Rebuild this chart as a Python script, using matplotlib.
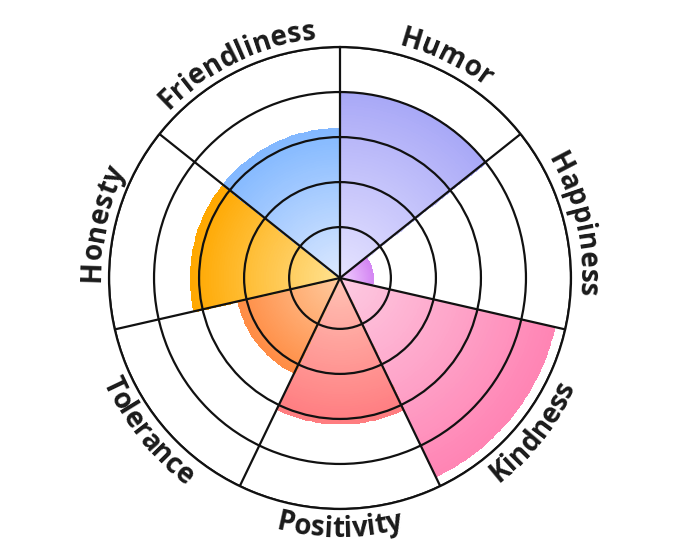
import numpy as np
import matplotlib.pyplot as plt
from matplotlib.colors import LinearSegmentedColormap
from matplotlib.font_manager import FontProperties
from matplotlib.textpath import text_to_path

# data (clockwise from 12 o'clock)
labels = ['Humor', 'Happiness', 'Kindness', 'Positivity',
          'Tolerance', 'Honesty', 'Friendliness']
values = [4.0, 0.6, 4.75, 3.1, 2.2, 3.2, 3.2]
inner_colors = ['#e6e3ff', '#f2d2ff', '#fdcbe2', '#ffc2b4',
                '#ffcb9f', '#ffe292', '#dde9ff']
outer_colors = ['#a9a9f7', '#d487f3', '#ff84b4', '#ff7c80',
                '#ff8d45', '#ffa800', '#82b8ff']
ring_ticks = [1, 2, 3, 4, 5]

r_min = -0.13
r_max = 5
DPI = 100

fig = plt.figure(figsize=(6.8, 5.57), dpi=DPI)
ax = fig.add_axes([0.1603, 0.0862, 0.6794, 0.8294], projection='polar')
ax.set_theta_zero_location('N')
ax.set_theta_direction(-1)
ax.set_ylim(r_min, r_max)

n = len(labels)
width = 2 * np.pi / n

# gradient filled sectors
for i, (v, c0, c1) in enumerate(zip(values, inner_colors, outer_colors)):
    th = np.linspace(i * width, (i + 1) * width, 41)
    rr = np.linspace(r_min, v, 61)
    mid = (rr[:-1] + rr[1:]) / 2
    C = np.tile(mid[:, None], (1, len(th) - 1))
    cmap = LinearSegmentedColormap.from_list('sec%d' % i, [c0, c1])
    ax.pcolormesh(th, rr, C, cmap=cmap, vmin=r_min, vmax=v, shading='flat',
                  edgecolors='face', linewidth=0.4, zorder=1)

# grid
ax.set_xticks(np.arange(n) * width)
ax.set_xticklabels([])
ax.set_yticks(ring_ticks)
ax.set_yticklabels([])
ax.set_axisbelow(False)
ax.grid(True, color='#111111', linewidth=1.6)
ax.spines['polar'].set_color('#111111')
ax.spines['polar'].set_linewidth(1.6)
ax.tick_params(length=0)

# curved labels
fp = FontProperties(family='Open Sans', weight='bold', size=20)
px_per_unit = 231 / (r_max - r_min)


def text_w(s):
    if not s:
        return 0.0
    w, h, d = text_to_path.get_text_width_height_descent(s, fp, ismath=False)
    return w * DPI / 72


for i, lab in enumerate(labels):
    tc = (i + 0.5) * width
    flipped = np.pi / 2 < tc < 3 * np.pi / 2
    R = 259 if flipped else 240
    total = text_w(lab)
    for k, ch in enumerate(lab):
        s = text_w(lab[:k]) + text_w(ch) / 2 - total / 2
        if flipped:
            th = tc - s / R
            rot = -np.degrees(th) + 180
        else:
            th = tc + s / R
            rot = -np.degrees(th)
        ax.text(th, r_min + R / px_per_unit, ch, fontproperties=fp,
                rotation=rot, rotation_mode='anchor', ha='center',
                va='baseline', color='#1a1a1a', clip_on=False)

fig.savefig('out.png', dpi=DPI)
